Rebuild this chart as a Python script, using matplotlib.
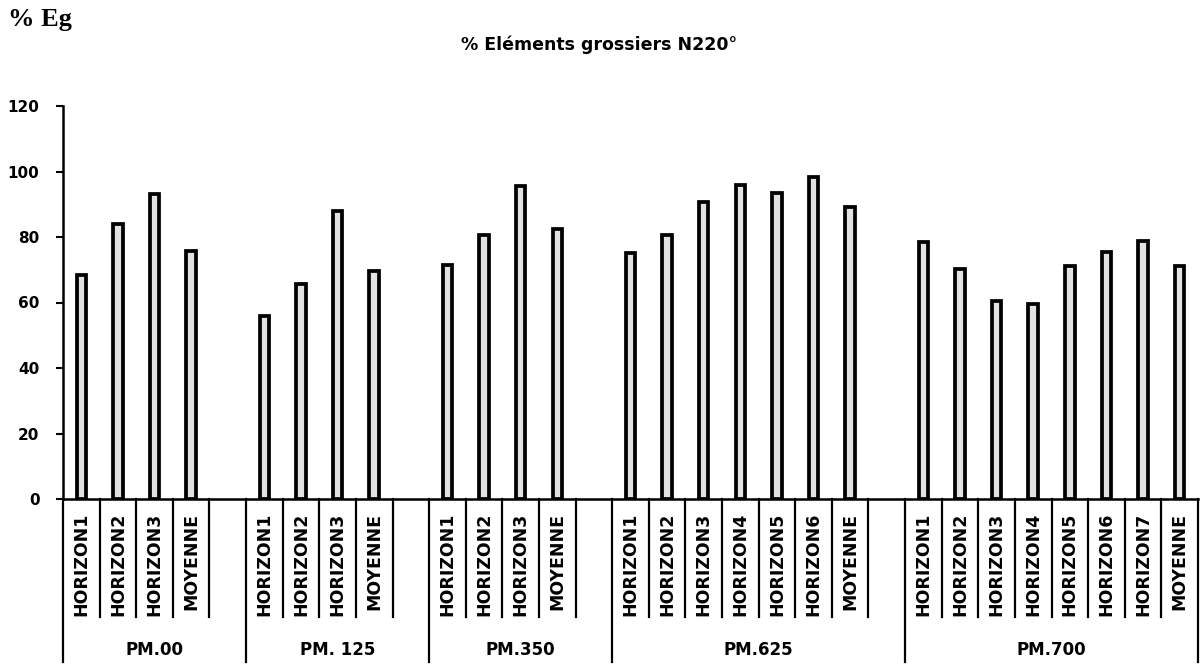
"""Bar chart of coarse element percentage per horizon and profile."""

import matplotlib

matplotlib.use("Agg")

import matplotlib.pyplot as plt
import matplotlib.transforms as mtransforms

groups = ["PM.00", "PM. 125", "PM.350", "PM.625", "PM.700"]
labels_pm00 = ["HORIZON1", "HORIZON2", "HORIZON3", "MOYENNE"]
labels_pm125 = ["HORIZON1", "HORIZON2", "HORIZON3", "MOYENNE"]
labels_pm350 = ["HORIZON1", "HORIZON2", "HORIZON3", "MOYENNE"]
labels_pm625 = ["HORIZON1", "HORIZON2", "HORIZON3", "HORIZON4",
                "HORIZON5", "HORIZON6", "MOYENNE"]
labels_pm700 = ["HORIZON1", "HORIZON2", "HORIZON3", "HORIZON4",
                "HORIZON5", "HORIZON6", "HORIZON7", "MOYENNE"]
values_pm00 = [68.4, 84.0, 93.0, 75.6]
values_pm125 = [56.0, 65.6, 87.9, 69.7]
values_pm350 = [71.5, 80.6, 95.6, 82.3]
values_pm625 = [75.0, 80.6, 90.6, 96.0, 93.3, 98.2, 89.3]
values_pm700 = [78.6, 70.3, 60.6, 59.5, 71.1, 75.3, 78.7, 71.2]
y_ticks = [0, 20, 40, 60, 80, 100, 120]

all_labels = [labels_pm00, labels_pm125, labels_pm350, labels_pm625, labels_pm700]
all_values = [values_pm00, values_pm125, values_pm350, values_pm625, values_pm700]

fig = plt.figure(figsize=(12.02, 6.64), dpi=100)
ax = fig.add_axes([63 / 1202, 1 - 499 / 664, (1198 - 63) / 1202, (499 - 106) / 664])

xs, heights, cat_labels, spans = [], [], [], []
pos = 0
for gi, (labels, vals) in enumerate(zip(all_labels, all_values)):
    start = pos
    for lab, v in zip(labels, vals):
        xs.append(pos)
        heights.append(v)
        cat_labels.append(lab)
        pos += 1
    if gi < len(groups) - 1:
        pos += 1  # empty slot between profiles
    spans.append((start - 0.5, pos - 0.5))

ax.bar(xs, heights, width=0.26, color="#e2e2e2", edgecolor="black", linewidth=2.7)

ax.set_xlim(-0.5, pos - 0.5)
ax.set_ylim(0, 120)
ax.set_yticks(y_ticks)
ax.set_xticks([])
for s in ("top", "right"):
    ax.spines[s].set_visible(False)
ax.spines["left"].set_linewidth(1.8)
ax.spines["bottom"].set_linewidth(1.8)
ax.tick_params(axis="y", direction="out", length=5, width=1.5, pad=12)
for t in ax.get_yticklabels():
    t.set_fontweight("bold")
    t.set_fontsize(11)

trans = mtransforms.blended_transform_factory(ax.transData, ax.transAxes)
for x, lab in zip(xs, cat_labels):
    ax.text(x, -0.035, lab, transform=trans, rotation=90, ha="center", va="top",
            fontsize=12.5, fontweight="bold")

edges = {b for span in spans for b in span}
for k in range(pos + 1):
    b = k - 0.5
    bottom = -0.415 if b in edges else -0.30
    ax.plot([b, b], [0, bottom], transform=trans, color="black", lw=1.6,
            clip_on=False)

for name, (a, b) in zip(groups, spans):
    ax.text((a + b) / 2, -0.384, name, transform=trans, ha="center", va="center",
            fontsize=12, fontweight="bold")

fig.text(0.498, 1 - 45 / 664, "% Eléments grossiers N220°", ha="center",
         va="center", fontsize=12.5, fontweight="bold")
fig.text(8 / 1202, 1 - 8 / 664, "% Eg", ha="left", va="top", fontsize=19,
         fontweight="bold", family="Liberation Serif")

fig.savefig("out.png", dpi=100)
